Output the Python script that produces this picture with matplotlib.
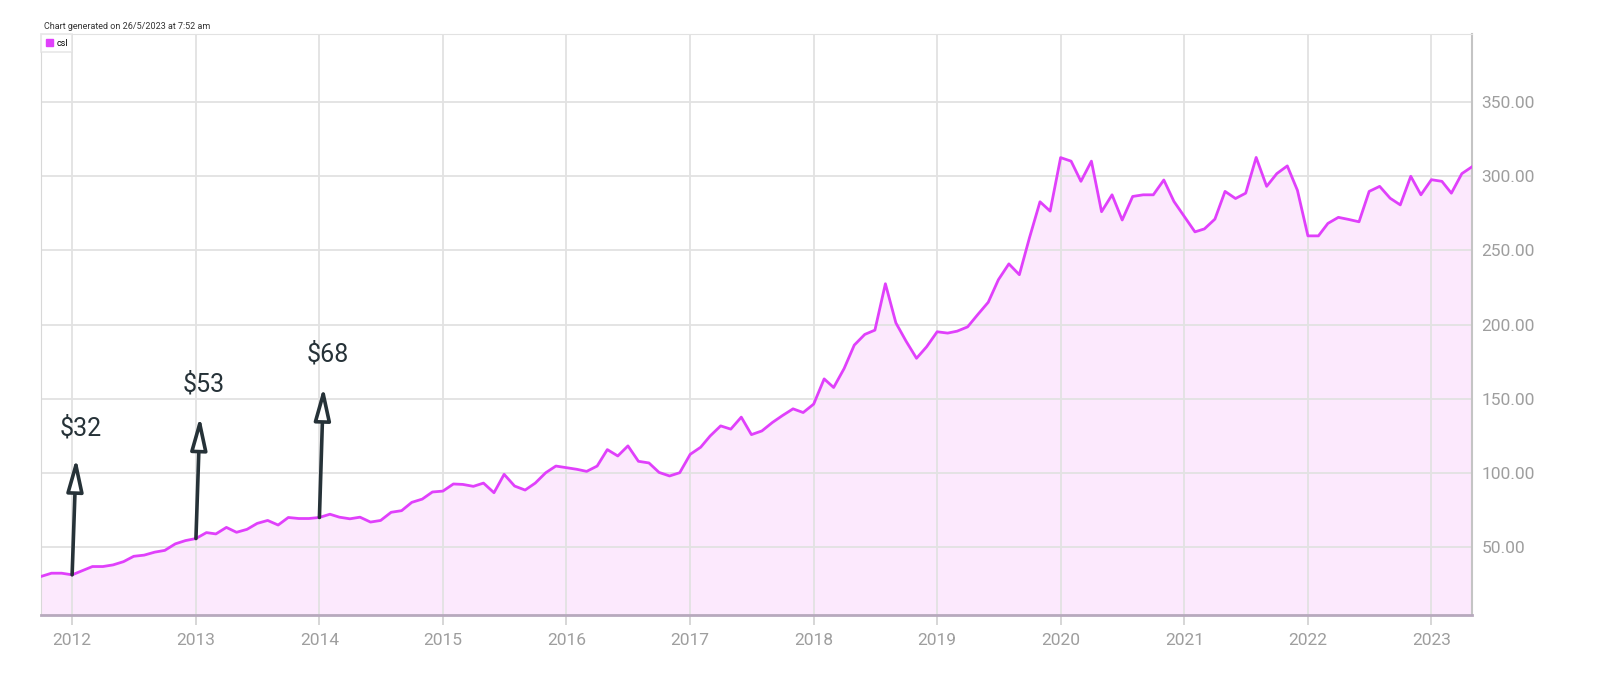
import matplotlib as mpl
mpl.use('Agg')
import numpy as np
import pandas as pd
import matplotlib.pyplot as plt
import matplotlib.dates as mdates
from matplotlib.patches import Patch

plt.rcParams['font.family'] = ['Roboto', 'DejaVu Sans']

# monthly closing prices, Oct 2011 .. May 2023
start = '2011-10-01'
v2011 = [30.0, 32.2, 32.2]
v2012 = [31.1, 34.0, 36.7, 36.7, 37.8, 40.0, 43.6, 44.4, 46.4, 47.6, 52.0, 54.2]
v2013 = [55.6, 59.6, 58.7, 63.1, 59.8, 61.8, 65.8, 67.8, 64.7, 69.8, 69.1, 69.1]
v2014 = [69.8, 72.0, 70.0, 68.9, 70.0, 66.7, 67.8, 73.3, 74.4, 80.0, 82.2, 87.0]
v2015 = [87.6, 92.4, 92.1, 90.8, 93.0, 86.5, 98.9, 91.0, 88.3, 93.0, 100.0, 104.5]
v2016 = [103.4, 102.3, 100.9, 104.5, 115.6, 111.3, 118.1, 107.7, 106.6, 100.2, 97.8, 100.0]
v2017 = [112.4, 117.2, 124.8, 131.6, 129.4, 137.5, 125.7, 128.2, 133.9, 138.6, 143.1, 140.6]
v2018 = [146.3, 163.3, 157.5, 170.3, 186.1, 193.3, 196.2, 227.5, 201.1, 188.8, 177.2, 185.0]
v2019 = [195.1, 194.2, 195.5, 198.4, 206.7, 215.0, 230.2, 240.9, 233.6, 258.6, 282.8, 276.5]
v2020 = [312.6, 310.2, 296.6, 310.2, 276.1, 287.5, 270.5, 286.4, 287.5, 287.5, 297.5, 283.0]
v2021 = [272.7, 262.5, 264.5, 271.1, 289.8, 285.0, 288.6, 312.7, 293.2, 301.8, 307.0, 290.5]
v2022 = [259.8, 259.8, 268.2, 272.3, 270.9, 269.3, 289.8, 293.2, 285.2, 280.7, 300.0, 287.5]
v2023 = [297.7, 296.6, 288.6, 301.8, 306.4]

price = np.array(v2011 + v2012 + v2013 + v2014 + v2015 + v2016 + v2017 +
                 v2018 + v2019 + v2020 + v2021 + v2022 + v2023)
dates = pd.date_range(start, periods=len(price), freq='MS')

y_ticks = [50, 100, 150, 200, 250, 300, 350]
years = list(range(2012, 2024))

# callouts: label, base date, base price
call_labels = ['$32', '$53', '$68']
call_dates = ['2012-01-01', '2013-01-01', '2014-01-01']
call_prices = [31.1, 55.6, 69.8]
# where the arrow heads and labels sit (price units)
tip_levels = [110, 138, 158]
label_levels = [130, 160, 180]

LINE = '#e040fb'
GRID = '#e2e2e2'
TXT = '#9e9e9e'
DARK = '#263238'

fig = plt.figure(figsize=(15.98, 6.94), dpi=100)
ax = fig.add_axes([41/1598, 1-615/694, (1472-41)/1598, (615-34)/694])

ax.fill_between(dates, price, 0, color='#fce9fd', lw=0, zorder=1)
ax.plot(dates, price, color=LINE, lw=2, zorder=3)

ax.set_xlim(dates[0], dates[-1])
ax.set_ylim(4, 396)

ax.set_xticks([pd.Timestamp(f'{y}-01-01') for y in years])
ax.xaxis.set_major_formatter(mdates.DateFormatter('%Y'))
ax.set_yticks(y_ticks)
ax.set_yticklabels([f'{v:.2f}' for v in y_ticks])
ax.yaxis.tick_right()
ax.tick_params(axis='y', length=0, pad=7, labelsize=12.5, labelcolor=TXT)
ax.tick_params(axis='x', length=7, width=1.2, color='#d0d0d0', pad=6,
               labelsize=12.5, labelcolor=TXT)
ax.grid(True, color=GRID, lw=1.3, zorder=2)

ax.spines['top'].set_color(GRID)
ax.spines['left'].set_color('#d8d8d8')
ax.spines['right'].set_color('#c4c4c4')
ax.spines['right'].set_linewidth(1.5)
ax.spines['bottom'].set_color('#b7a9bd')
ax.spines['bottom'].set_linewidth(2)

# arrows with price callouts
for lab, d, p, tp, lp in zip(call_labels, call_dates, call_prices,
                             tip_levels, label_levels):
    d0 = pd.Timestamp(d)
    tip = d0 + pd.Timedelta(days=12)
    ax.annotate('', xy=(tip, tp), xytext=(d0, p),
                arrowprops=dict(arrowstyle='-|>,head_length=2.0,head_width=0.5',
                                fc='white', ec=DARK, lw=2.6,
                                shrinkA=0, shrinkB=0, mutation_scale=10),
                zorder=5)
    ax.text(d0 + pd.Timedelta(days=24), lp, lab.replace('$', r'\$'),
            fontsize=18, color=DARK, ha='center', va='center', zorder=5)

leg = ax.legend(handles=[Patch(color=LINE, label='csl')], loc='upper left',
                fontsize=6.5, frameon=True, fancybox=False, borderaxespad=0,
                handlelength=0.8, handleheight=0.8, handletextpad=0.4,
                borderpad=0.5)
leg.get_frame().set_edgecolor(GRID)
leg.get_frame().set_linewidth(1.2)

fig.text(44/1598, 1-26.5/694, 'Chart generated on 26/5/2023 at 7:52 am',
         fontsize=6.5, color='#333333', va='center', ha='left')

fig.savefig('out.png', dpi=100)
